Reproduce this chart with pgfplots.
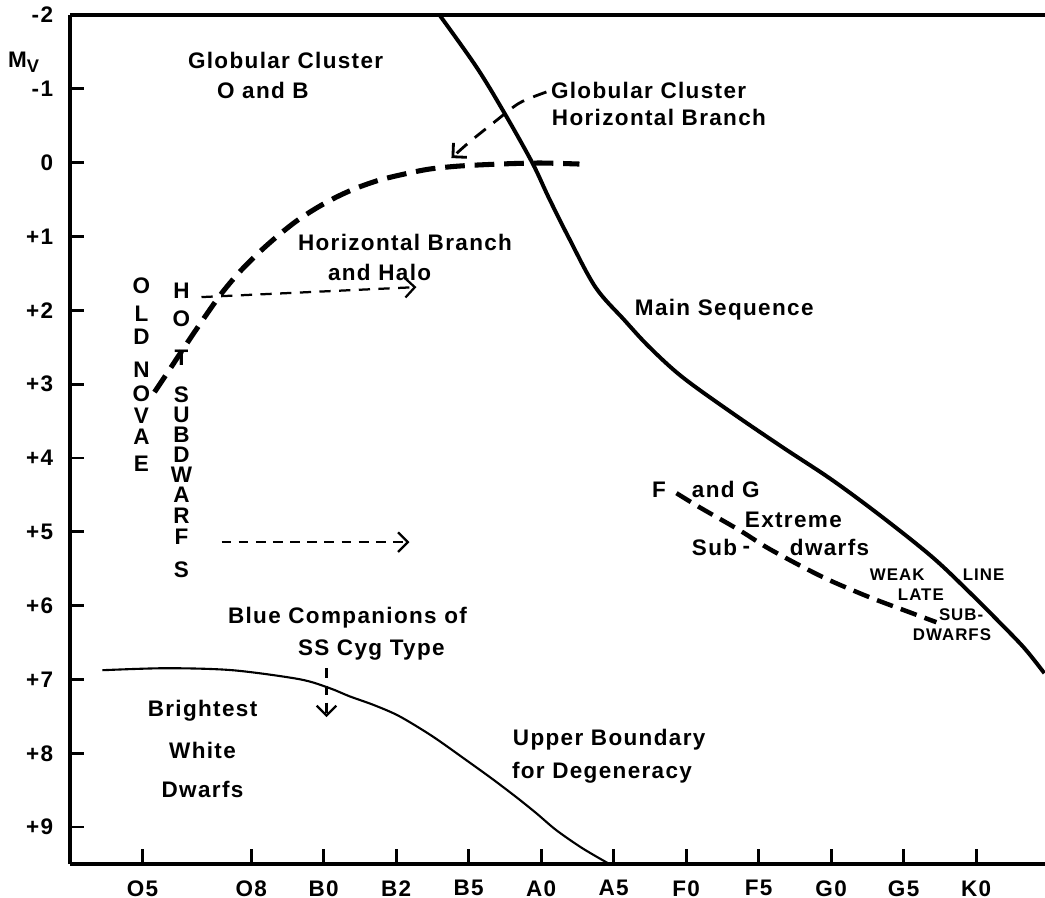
\documentclass[border=0pt]{standalone}
\usepackage{fontspec}
\setmainfont{Liberation Sans}[LetterSpace=6]
\usepackage{pgfplots}
\pgfplotsset{compat=1.18}
\usetikzlibrary{arrows.meta}
\newcommand\lab{\fontsize{8}{9.6}\selectfont\bfseries}
\newcommand\sml{\fontsize{6}{7.2}\selectfont\bfseries}
\begin{document}
\begin{tikzpicture}[font=\lab, lbl/.style={anchor=base west, inner sep=0pt}, lbc/.style={anchor=base, inner sep=0pt}]
\begin{axis}[
  scale only axis, width=12.1875cm, height=10.6125cm,
  xmin=-1, xmax=12.45, ymin=-2, ymax=9.5, y dir=reverse,
  separate axis lines,
  x axis line style={line width=1.1pt},
  y axis line style={draw=none},
  xtick={0,1.5,2.5,3.5,4.5,5.5,6.5,7.5,8.5,9.5,10.5,11.5},
  xticklabels={O5,O8,B0,B2,B5,A0,A5,F0,F5,G0,G5,K0},
  ytick={-2,-1,0,1,2,3,4,5,6,7,8,9},
  yticklabels={-2,-1,0,+1,+2,+3,+4,+5,+6,+7,+8,+9},
  tick pos=left,
  xticklabel style={yshift=-2.3pt},
  yticklabel style={xshift=-2.5pt},
  clip=false,
]
\draw[line width=1.1pt] (rel axis cs:0,0) -- (rel axis cs:0,1);
% tick marks
\addplot[black, line width=1pt, forget plot] coordinates {(0,9.5) (0,9.3)};
\addplot[black, line width=1pt, forget plot] coordinates {(1.5,9.5) (1.5,9.3)};
\addplot[black, line width=1pt, forget plot] coordinates {(2.5,9.5) (2.5,9.3)};
\addplot[black, line width=1pt, forget plot] coordinates {(3.5,9.5) (3.5,9.3)};
\addplot[black, line width=1pt, forget plot] coordinates {(4.5,9.5) (4.5,9.3)};
\addplot[black, line width=1pt, forget plot] coordinates {(5.5,9.5) (5.5,9.3)};
\addplot[black, line width=1pt, forget plot] coordinates {(6.5,9.5) (6.5,9.3)};
\addplot[black, line width=1pt, forget plot] coordinates {(7.5,9.5) (7.5,9.3)};
\addplot[black, line width=1pt, forget plot] coordinates {(8.5,9.5) (8.5,9.3)};
\addplot[black, line width=1pt, forget plot] coordinates {(9.5,9.5) (9.5,9.3)};
\addplot[black, line width=1pt, forget plot] coordinates {(10.5,9.5) (10.5,9.3)};
\addplot[black, line width=1pt, forget plot] coordinates {(11.5,9.5) (11.5,9.3)};
\addplot[black, line width=1pt, forget plot] coordinates {(-1,-1) (-0.81,-1)};
\addplot[black, line width=1pt, forget plot] coordinates {(-1,0) (-0.81,0)};
\addplot[black, line width=1pt, forget plot] coordinates {(-1,1) (-0.81,1)};
\addplot[black, line width=1pt, forget plot] coordinates {(-1,2) (-0.81,2)};
\addplot[black, line width=1pt, forget plot] coordinates {(-1,3) (-0.81,3)};
\addplot[black, line width=1pt, forget plot] coordinates {(-1,4) (-0.81,4)};
\addplot[black, line width=1pt, forget plot] coordinates {(-1,5) (-0.81,5)};
\addplot[black, line width=1pt, forget plot] coordinates {(-1,6) (-0.81,6)};
\addplot[black, line width=1pt, forget plot] coordinates {(-1,7) (-0.81,7)};
\addplot[black, line width=1pt, forget plot] coordinates {(-1,8) (-0.81,8)};
\addplot[black, line width=1pt, forget plot] coordinates {(-1,9) (-0.81,9)};
% Main sequence
\addplot[black, line width=1.4pt, smooth, tension=0.55] coordinates {
(4.097,-2.00) (4.607,-1.295) (4.993,-0.672) (5.379,0.005) (5.6,0.466) (5.876,1.008) (6.248,1.686) (6.648,2.133) (6.993,2.499) (7.448,2.905) (8.138,3.393) (8.828,3.854) (9.517,4.301) (10.207,4.802) (10.897,5.344) (11.407,5.818) (11.821,6.225) (12.166,6.577) (12.441,6.916)};
% Upper boundary for degeneracy
\addplot[black, line width=0.75pt, smooth] coordinates {
(-0.552,6.875) (0.331,6.848) (1.241,6.875) (2.166,6.997) (2.579,7.117) (2.855,7.228) (3.2,7.35) (3.545,7.499) (4.0,7.77) (4.469,8.095) (4.814,8.339) (5.159,8.596) (5.434,8.813) (5.71,9.043) (6.069,9.287) (6.441,9.5)};
% Horizontal branch (thick dashed)
\addplot[black, line width=1.8pt, smooth, dash pattern=on 7pt off 3.5pt] coordinates {
(0.166,3.108) (0.441,2.702) (0.717,2.295) (1.062,1.808) (1.338,1.482) (1.614,1.211) (1.862,0.995) (2.124,0.791) (2.4,0.615) (2.676,0.466) (2.952,0.344) (3.269,0.236) (3.614,0.154) (3.959,0.087) (4.372,0.046) (4.924,0.019) (5.476,0.005) (6.028,0.019)};
% F and G extreme subdwarfs (thick dashed)
\addplot[black, line width=1.6pt, smooth, dash pattern=on 6pt off 3pt] coordinates {
(7.366,4.477) (7.683,4.667) (8.234,4.978) (8.607,5.209) (9.062,5.453) (9.476,5.656) (10.028,5.886) (10.579,6.089) (10.952,6.225)};
% thin dashed arrows
\addplot[black, line width=1pt, smooth, dash pattern=on 5pt off 3.5pt, -{Straight Barb[length=3.5pt,width=7pt]}] coordinates {
(5.572,-0.957) (5.2,-0.808) (4.855,-0.55) (4.51,-0.279) (4.262,-0.062)};
\addplot[black, line width=0.8pt, dash pattern=on 4pt off 3pt, -{Straight Barb[length=3.5pt,width=7pt]}] coordinates {
(0.814,1.821) (3.779,1.686)};
\addplot[black, line width=0.8pt, dash pattern=on 3.5pt off 2.6pt, -{Straight Barb[length=3.5pt,width=7pt]}] coordinates {
(1.09,5.141) (3.683,5.141)};
\addplot[black, line width=0.8pt, dash pattern=on 3.5pt off 2.6pt, -{Straight Barb[length=3.5pt,width=7pt]}] coordinates {
(2.538,6.85) (2.538,7.51)};
% axis label
\node[lbl] at (axis cs:-1.862,-1.295) {M\raisebox{-0.5ex}{\fontsize{6.5}{7}\selectfont\bfseries V}};
% labels
\node[lbl] at (axis cs:0.621,-1.282) {Globular Cluster};
\node[lbl] at (axis cs:1.021,-0.875) {O and B};
\node[lbl] at (axis cs:5.628,-0.875) {Globular Cluster};
\node[lbl] at (axis cs:5.641,-0.509) {Horizontal Branch};
\node[lbl] at (axis cs:2.138,1.184) {Horizontal Branch};
\node[lbl] at (axis cs:2.552,1.591) {and Halo};
\node[lbl] at (axis cs:6.786,2.065) {Main Sequence};
\node[lbl] at (axis cs:7.021,4.531) {F};
\node[lbl] at (axis cs:7.572,4.531) {and G};
\node[lbl] at (axis cs:8.303,4.938) {Extreme};
\node[lbl] at (axis cs:7.572,5.317) {Sub};
\node at (axis cs:8.331,5.249) {-};
\node[lbl] at (axis cs:8.924,5.317) {dwarfs};
\node[lbl, font=\sml] at (axis cs:10.028,5.656) {WEAK};
\node[lbl, font=\sml] at (axis cs:11.31,5.656) {LINE};
\node[lbl, font=\sml] at (axis cs:10.414,5.927) {LATE};
\node[lbl, font=\sml] at (axis cs:10.98,6.198) {SUB-};
\node[lbl, font=\sml] at (axis cs:10.62,6.469) {DWARFS};
\node[lbl] at (axis cs:1.172,6.238) {Blue Companions of};
\node[lbl] at (axis cs:2.138,6.672) {SS Cyg Type};
\node[lbc] at (axis cs:0.828,7.499) {Brightest};
\node[lbc] at (axis cs:0.828,8.068) {White};
\node[lbc] at (axis cs:0.828,8.596) {Dwarfs};
\node[lbl] at (axis cs:5.103,7.892) {Upper Boundary};
\node[lbl] at (axis cs:5.09,8.339) {for Degeneracy};
% OLD NOVAE (vertical)
\node at (axis cs:-0.014,1.672) {O};
\node at (axis cs:-0.014,2.051) {L};
\node at (axis cs:-0.014,2.363) {D};
\node at (axis cs:-0.014,2.810) {N};
\node at (axis cs:-0.014,3.136) {O};
\node at (axis cs:-0.014,3.434) {V};
\node at (axis cs:-0.014,3.718) {A};
\node at (axis cs:-0.014,4.084) {E};
% HOT SUBDWARFS (vertical)
\node at (axis cs:0.538,1.740) {H};
\node at (axis cs:0.538,2.119) {O};
\node at (axis cs:0.538,2.648) {T};
\node at (axis cs:0.538,3.149) {S};
\node at (axis cs:0.538,3.420) {U};
\node at (axis cs:0.538,3.691) {B};
\node at (axis cs:0.538,3.962) {D};
\node at (axis cs:0.538,4.233) {W};
\node at (axis cs:0.538,4.504) {A};
\node at (axis cs:0.538,4.789) {R};
\node at (axis cs:0.538,5.073) {F};
\node at (axis cs:0.538,5.520) {S};
\end{axis}
\pgfresetboundingbox
\path (-0.875cm,-0.425cm) rectangle (12.1875cm,10.8cm);
\end{tikzpicture}
\end{document}
